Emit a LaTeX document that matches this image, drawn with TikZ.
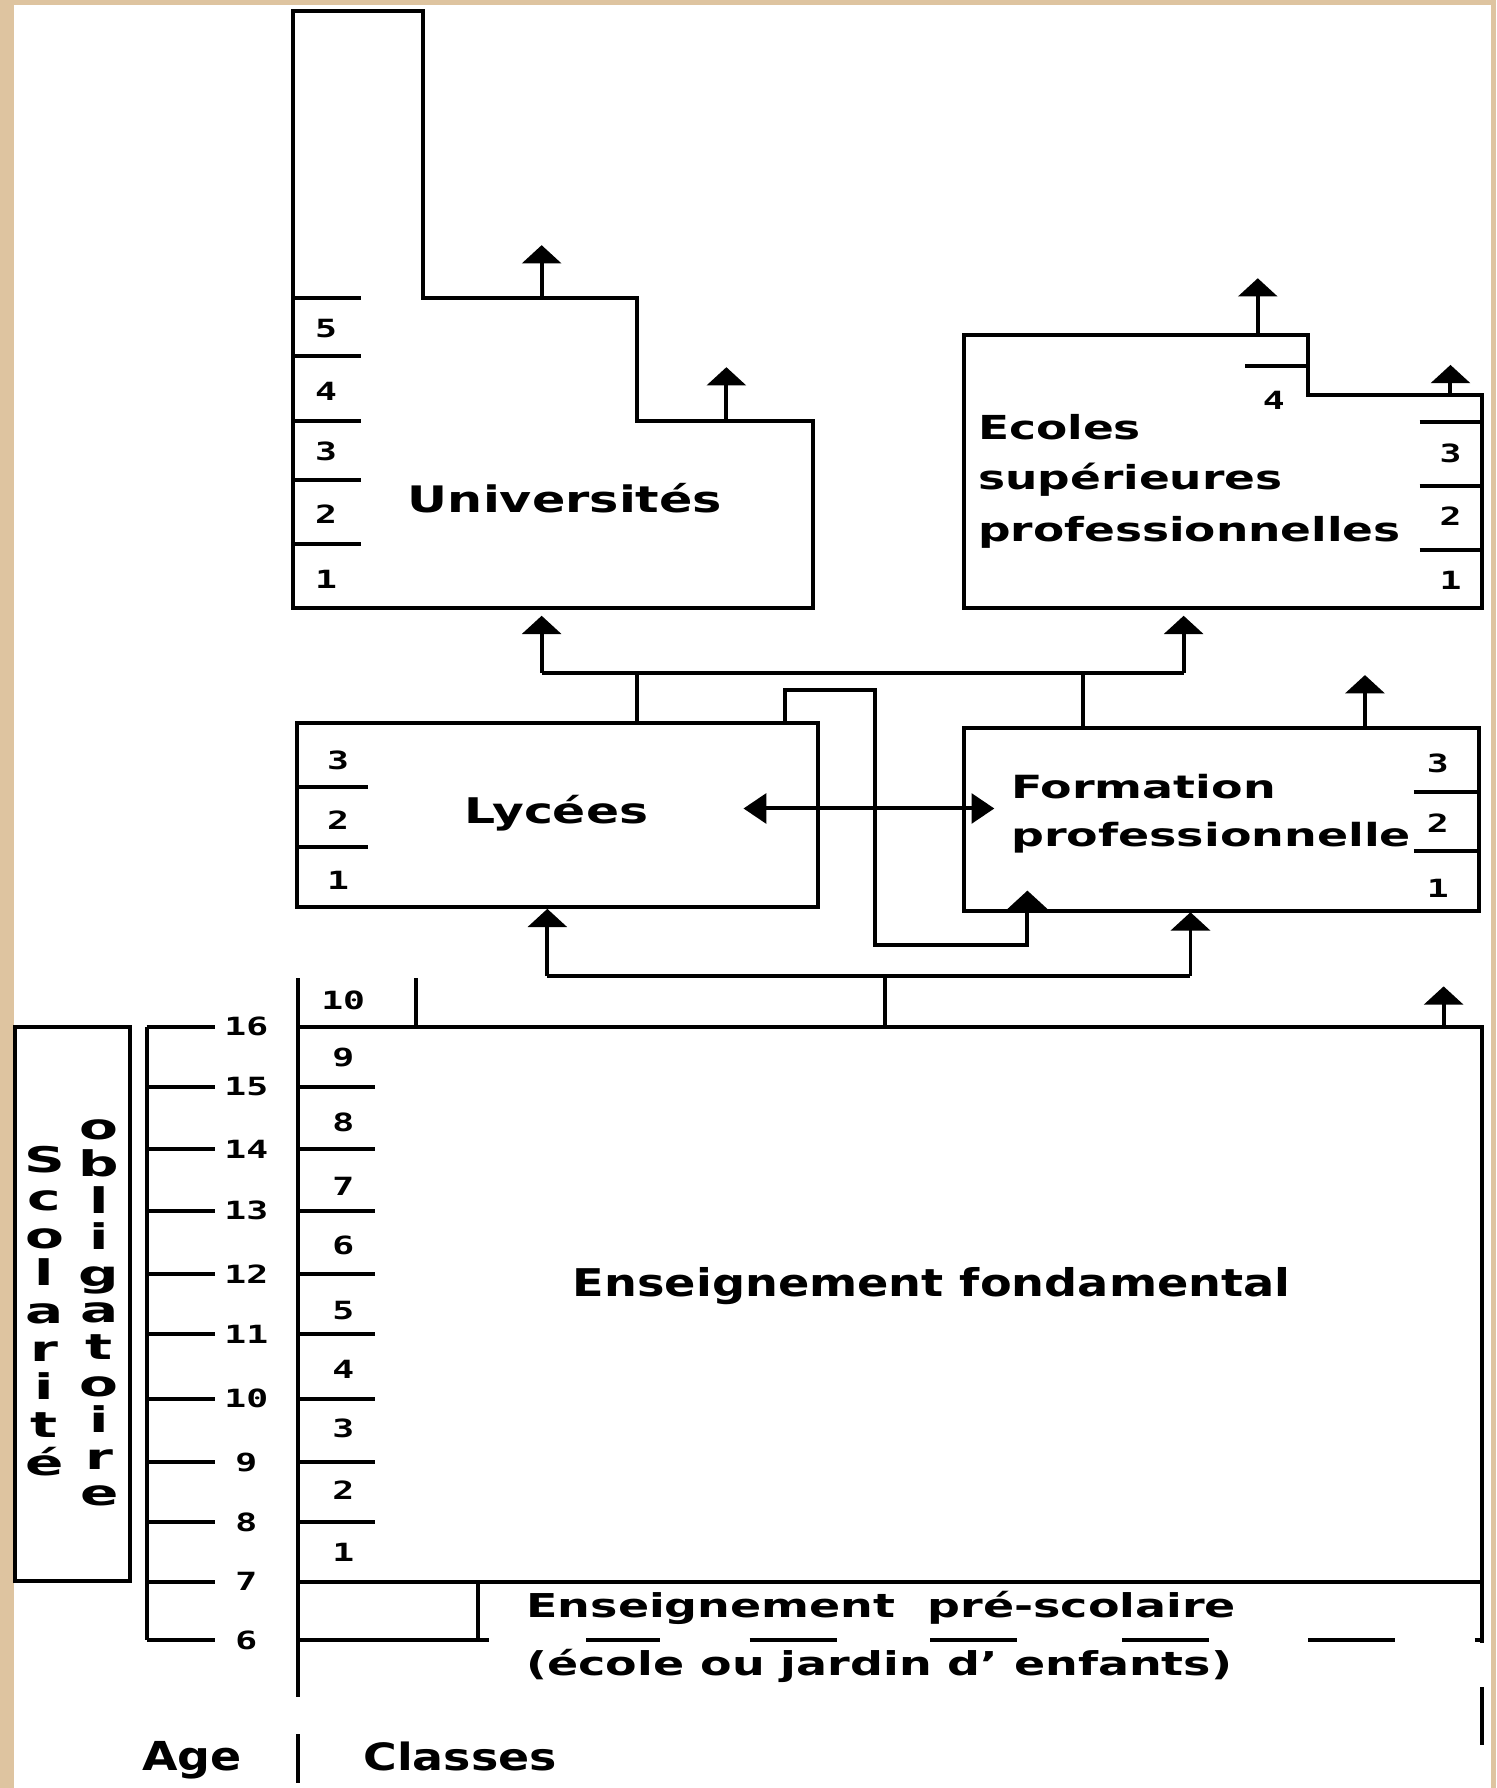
\documentclass[tikz,border=0pt]{standalone}
\usepackage{fontspec}
\usetikzlibrary{arrows.meta}
\newfontfamily\labf{DejaVu Sans}[UprightFont={* Bold}]
\newfontfamily\digf{DejaVu Sans Mono}[UprightFont={* Bold}, FakeStretch=1.45]
\definecolor{framecol}{RGB}{222,196,160}
\newcommand{\lbl}[3]{{\fontsize{#1}{#1}\selectfont\labf\addfontfeature{FakeStretch=#2}#3}}
\begin{document}
\begin{tikzpicture}[x=1pt,y=-1pt,line width=3.5pt,
  varr/.style={-{Triangle[length=16pt,width=34pt]}},
  harr/.style={{Triangle[length=20pt,width=26pt]}-{Triangle[length=20pt,width=26pt]}},
  txt/.style={inner sep=0pt,anchor=base west,text=black},
  num/.style={inner sep=0pt,anchor=center,font=\fontsize{22}{22}\selectfont\digf},
  vlet/.style={inner sep=0pt,anchor=base,font=\fontsize{31}{31}\selectfont\labf\addfontfeature{FakeStretch=1.6}}]
\useasboundingbox (0,0) rectangle (1312,1568);
\fill[framecol] (0,0) rectangle (1312,1568);
\fill[white] (12.3,4) rectangle (1307.7,1568);

% ---------- Universites ----------
\draw (257,533) -- (257,10) -- (371,10) -- (371,261) -- (559,261) -- (559,369) -- (713,369) -- (713,533) -- cycle;
\foreach \y in {261,312,369,421,477} \draw (257,\y) -- (317,\y);
\foreach \n/\y [count=\i] in {5/288,4/343,3/396,2/451,1/508} \node[num] (u\i) at (286,\y) {\n};
\node[txt] (univ) at (356,449) {\lbl{32}{1.35}{Universités}};
\coordinate (ua) at (475,261); \coordinate (uat) at (475,215);
\coordinate (ub) at (637,369); \coordinate (ubt) at (637,322);
\draw[varr] (ua) -- (uat);
\draw[varr] (ub) -- (ubt);

% ---------- Ecoles superieures ----------
\draw (845,533) -- (845,294) -- (1147,294) -- (1147,346) -- (1300,346) -- (1300,533) -- cycle;
\draw (1092,321) -- (1147,321);
\foreach \y in {370,426,482} \draw (1245,\y) -- (1300,\y);
\node[num] (e4) at (1117,351) {4};
\foreach \n/\y [count=\i] in {3/398,2/453,1/509} \node[num] (e\i) at (1272,\y) {\n};
\node[txt] (ec1) at (856,385) {\lbl{29}{1.376}{Ecoles}};
\node[txt] (ec2) at (856,429) {\lbl{29}{1.376}{supérieures}};
\node[txt] (ec3) at (856,474.5) {\lbl{29}{1.376}{professionnelles}};
\coordinate (ea) at (1103,294); \coordinate (eat) at (1103,244);
\coordinate (eb) at (1272,346); \coordinate (ebt) at (1272,320);
\draw[varr] (ea) -- (eat);
\draw[varr] (eb) -- (ebt);

% ---------- Lycees ----------
\draw (260.5,634.4) rectangle (717,795.2);
\foreach \y in {690,743} \draw (260.5,\y) -- (322.5,\y);
\foreach \n/\y [count=\i] in {3/666.5,2/719,1/772} \node[num] (l\i) at (296.5,\y) {\n};
\node[txt] (lyc) at (405.5,722) {\lbl{31}{1.38}{Lycées}};

% ---------- Formation professionnelle ----------
\draw (845.6,638) rectangle (1297,798.7);
\foreach \y in {694.3,746} \draw (1240,\y) -- (1297,\y);
\foreach \n/\y [count=\i] in {3/669.5,2/722,1/779} \node[num] (f\i) at (1261,\y) {\n};
\node[txt] (fp1) at (885,700) {\lbl{28}{1.44}{Formation}};
\node[txt] (fp2) at (885,742.6) {\lbl{28}{1.44}{professionnelle}};
\coordinate (fa) at (1197,638); \coordinate (fat) at (1197,592);
\draw[varr] (fa) -- (fat);

% ---------- connectors between Lycees/Formation and upper boxes ----------
\coordinate (lytop) at (558.6,634.4); \coordinate (lyj) at (558.6,590);
\coordinate (fptop) at (950,638); \coordinate (fpj) at (950,590);
\coordinate (hL) at (475,590); \coordinate (hR) at (1038,590);
\coordinate (uniIn) at (475,540); \coordinate (ecoIn) at (1038,540);
\draw (lytop) -- (lyj);
\draw (fptop) -- (fpj);
\draw (hL) -- (hR);
\draw[varr] (hL) -- (uniIn);
\draw[varr] (hR) -- (ecoIn);
% loop from Lycees to Formation
\coordinate (lp0) at (688,634.4); \coordinate (lpIn) at (901,781);
\draw[varr] (lp0) -- (688,605) -- (767,605) -- (767,829) -- (901,829) -- (lpIn);
% double arrow
\coordinate (dL) at (652,709); \coordinate (dR) at (872,709);
\draw[harr] (dL) -- (dR);

% ---------- Enseignement fondamental ----------
\draw (261.5,858) -- (261.5,1488);
\draw (261.5,1521) -- (261.5,1564);
\draw (364.7,858) -- (364.7,900.4);
\draw (261.5,900.4) -- (1300,900.4) -- (1300,1441);
\draw (1300,1479.5) -- (1300,1530);
\draw (261.5,1387) -- (1300,1387);
\foreach \y in {953.1,1007.8,1061.6,1117.2,1170.1,1226.6,1282.2,1335.1} \draw (261.5,\y) -- (329,\y);
\foreach \n/\y [count=\i] in {10/877.6,9/927,8/984,7/1040,6/1092.4,5/1149,4/1200.7,3/1252.8,2/1307,1/1361}
  \node[num] (c\i) at (301,\y) {\n};
\node[txt] (fond) at (500.6,1137.2) {\lbl{33.5}{1.21}{Enseignement fondamental}};
\coordinate (fdtop) at (776,900.4); \coordinate (fdj) at (776,856);
\coordinate (gL) at (480,856); \coordinate (gR) at (1044,856);
\coordinate (lyIn) at (480,797); \coordinate (fpIn) at (1044,800);
\draw (fdtop) -- (fdj);
\draw (gL) -- (gR);
\draw[varr] (gL) -- (lyIn);
\draw[varr] (gR) -- (fpIn);
\coordinate (fr) at (1266,900.4); \coordinate (frt) at (1266,865);
\draw[varr] (fr) -- (frt);

% ---------- pre-scolaire ----------
\draw (261.5,1438.4) -- (429,1438.4);
\draw (419,1387) -- (419,1438.4);
\foreach \a/\b in {514.3/578.9,657.3/734.1,815.7/892,983.8/1060,1147.1/1223.3,1293.4/1300}
  \draw (\a,1438.4) -- (\b,1438.4);
\node[txt] (pre1) at (460,1418.4) {\lbl{28.8}{1.4}{Enseignement\ \ pré-scolaire}};
\node[txt] (pre2) at (460,1469.6) {\lbl{28.8}{1.4}{(école ou jardin d’ enfants)}};

% ---------- ages ----------
\draw (128.6,900.2) -- (128.6,1438.2);
\foreach \n/\y [count=\i] in {16/900.2,15/953.1,14/1007.8,13/1061.6,12/1117.2,11/1170.1,10/1226.6,9/1282.2,8/1335.1,7/1387.1,6/1438.2} {
  \draw (128.6,\y) -- (188.6,\y);
  \node[num] (a\i) at (216,\y) {\n};
}

% ---------- scolarite obligatoire ----------
\draw (13,900.2) rectangle (114,1386.2);
\foreach \ch [count=\i] in {S,c,o,l,a,r,i,t,é}
  \node[vlet] (sc\i) at (39,{1028+33.25*(\i-1)}) {\ch};
\foreach \ch [count=\i] in {o,b,l,i,g,a,t,o,i,r,e}
  \node[vlet] (ob\i) at (87,{999.6+32.1*(\i-1)}) {\ch};

% ---------- footer ----------
\node[txt] (age) at (122.8,1553) {\lbl{35}{1.15}{Age}};
\node[txt] (cls) at (317,1552.4) {\lbl{33}{1.22}{Classes}};
\end{tikzpicture}
\end{document}
